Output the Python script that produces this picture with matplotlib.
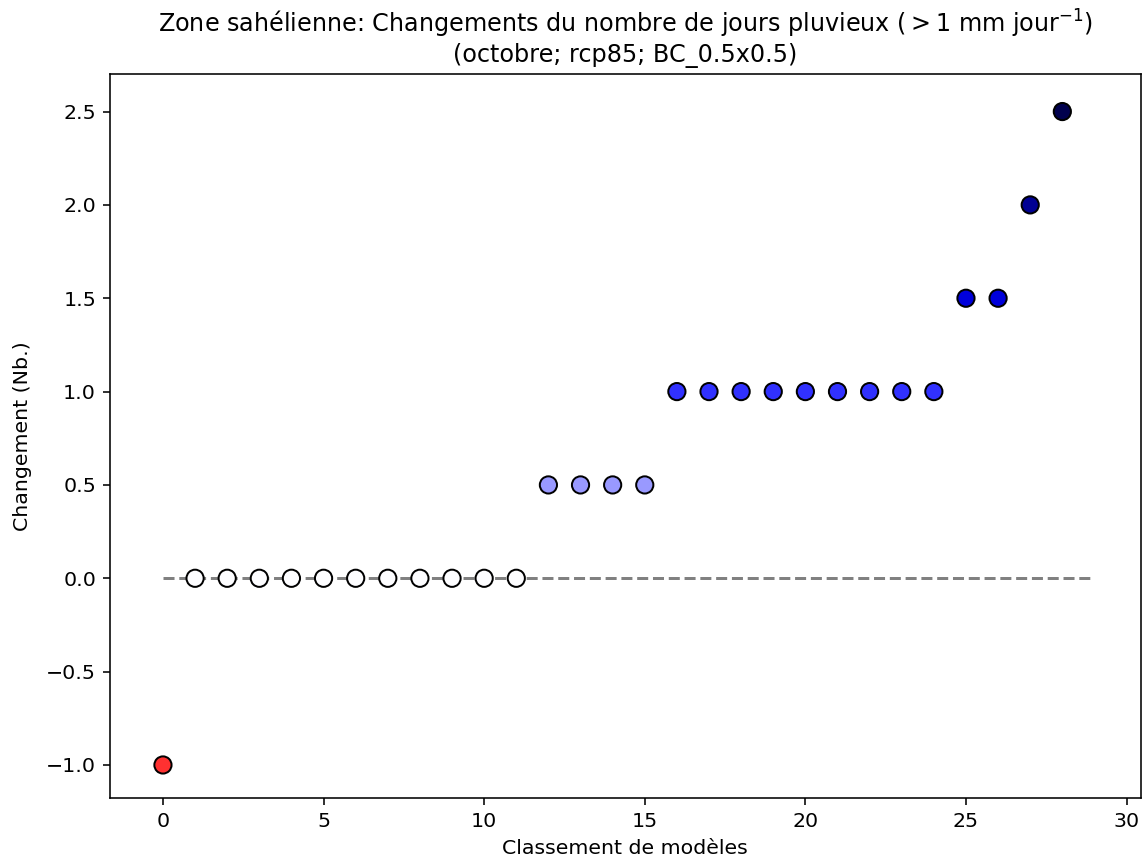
import matplotlib
matplotlib.use("Agg")
import matplotlib.pyplot as plt
import numpy as np

# Data: change in number of rainy days per model, ranked
values = [-1.0,
          0.0, 0.0, 0.0, 0.0, 0.0, 0.0, 0.0, 0.0, 0.0, 0.0, 0.0,
          0.5, 0.5, 0.5, 0.5,
          1.0, 1.0, 1.0, 1.0, 1.0, 1.0, 1.0, 1.0, 1.0,
          1.5, 1.5,
          2.0,
          2.5]
ranks = list(range(len(values)))

title = ("Zone sahélienne: Changements du nombre de jours pluvieux ($>1$ mm jour$^{-1}$)\n"
         "(octobre; rcp85; BC_0.5x0.5)")

dpi = 143
fig = plt.figure(figsize=(1143 / dpi, 863 / dpi), dpi=dpi)
ax = fig.add_axes([0.0962, 0.0753, 0.9018, 0.8387])

vmax = max(abs(v) for v in values)
ax.plot([0, len(values)], [0, 0], linestyle='--', color='0.5', lw=1.5, zorder=1)
ax.scatter(ranks, values, c=values, cmap='seismic_r', vmin=-vmax, vmax=vmax,
           s=75, edgecolors='black', linewidths=1.0, zorder=3)

ax.set_xlim(-1.65, 30.44)
ax.set_ylim(-1.177, 2.70)
ax.set_xticks([0, 5, 10, 15, 20, 25, 30])
ax.set_yticks([-1.0, -0.5, 0.0, 0.5, 1.0, 1.5, 2.0, 2.5])
ax.set_yticklabels(['\u22121.0', '\u22120.5', '0.0', '0.5', '1.0', '1.5', '2.0', '2.5'])
ax.tick_params(labelsize=10.3)
ax.set_xlabel("Classement de modèles", fontsize=10.3)
ax.set_ylabel("Changement (Nb.)", fontsize=10.3, labelpad=7)
ax.set_title(title, fontsize=12)

fig.savefig("out.png", dpi=dpi)
